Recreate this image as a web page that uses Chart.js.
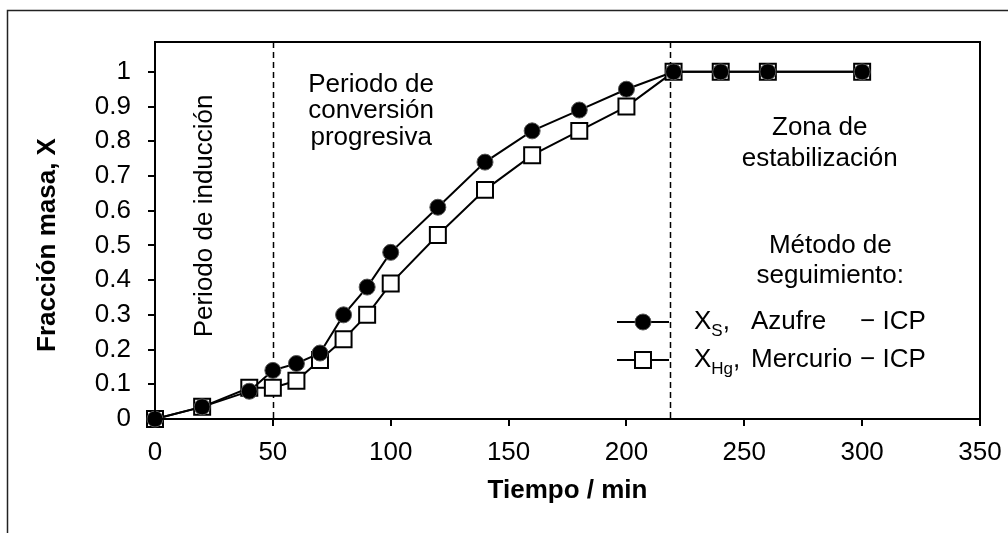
<!DOCTYPE html>
<html>
<head>
<meta charset="utf-8">
<script src="https://cdn.jsdelivr.net/npm/chart.js@4/dist/chart.umd.min.js"></script>
<style>
  html, body { margin: 0; padding: 0; background: #fff; }
</style>
</head>
<body>
<canvas id="myChart" width="1008" height="533"></canvas>
<script>
// 1) datos
var tiempo = [0, 20, 40, 50, 60, 70, 80, 90, 100, 120, 140, 160, 180, 200, 220, 240, 260, 300];
var xAzufre = [0, 0.035, 0.08, 0.14, 0.16, 0.19, 0.30, 0.38, 0.48, 0.61, 0.74, 0.83, 0.89, 0.95, 1, 1, 1, 1];
var xMercurio = [0, 0.035, 0.09, 0.09, 0.11, 0.17, 0.23, 0.30, 0.39, 0.53, 0.66, 0.76, 0.83, 0.90, 1, 1, 1, 1];
var xTicks = [0, 50, 100, 150, 200, 250, 300, 350];
var yTicks = [0, 0.1, 0.2, 0.3, 0.4, 0.5, 0.6, 0.7, 0.8, 0.9, 1];
var limites = [50, 218.5];

var FONT = 'Arial, "Liberation Sans", sans-serif';

function pares(xs, ys) {
  var out = [];
  for (var i = 0; i < xs.length; i++) out.push({ x: xs[i], y: ys[i] });
  return out;
}

// textos de las zonas (coordenadas en unidades de los ejes)
var notas = [
  { lines: ['Periodo de inducción'], x: 21, y: 0.585, rot: true },
  { lines: ['Periodo de', 'conversión', 'progresiva'], x: 91.7, y: 0.943, step: 26.5 },
  { lines: ['Zona de', 'estabilización'], x: 282, y: 0.818, step: 31 },
  { lines: ['Método de', 'seguimiento:'], x: 286.5, y: 0.477, step: 29.5 }
];

// leyenda con subindices
var leyenda = [
  { y: 0.28, base: 'X', sub: 'S', nombre: 'Azufre', ds: 0 },
  { y: 0.169, base: 'X', sub: 'Hg', nombre: 'Mercurio', ds: 1 }
];

function marcador(ctx, ds, x, y) {
  ctx.save();
  if (ds.pointStyle === 'rect') {
    var s = ds.pointRadius * Math.SQRT1_2;
    ctx.fillStyle = ds.pointBackgroundColor;
    ctx.strokeStyle = ds.pointBorderColor;
    ctx.lineWidth = ds.pointBorderWidth;
    ctx.fillRect(x - s, y - s, 2 * s, 2 * s);
    ctx.strokeRect(x - s, y - s, 2 * s, 2 * s);
  } else {
    ctx.beginPath();
    ctx.arc(x, y, ds.pointRadius, 0, Math.PI * 2);
    ctx.fillStyle = ds.pointBackgroundColor;
    ctx.fill();
    ctx.strokeStyle = ds.pointBorderColor;
    ctx.lineWidth = ds.pointBorderWidth;
    ctx.stroke();
  }
  ctx.restore();
}

var extras = {
  id: 'extras',
  beforeDraw: function(chart) {
    var ctx = chart.ctx;
    ctx.save();
    ctx.fillStyle = '#fff';
    ctx.fillRect(0, 0, chart.width, chart.height);
    // marco exterior
    ctx.strokeStyle = '#222';
    ctx.lineWidth = 1.5;
    ctx.strokeRect(7.5, 10.5, 1100, 600);
    ctx.restore();
  },
  beforeDatasetsDraw: function(chart) {
    var ctx = chart.ctx, a = chart.chartArea, sx = chart.scales.x;
    ctx.save();
    ctx.strokeStyle = '#000';
    ctx.lineWidth = 1.5;
    ctx.setLineDash([6, 4]);
    for (var i = 0; i < limites.length; i++) {
      var px = Math.round(sx.getPixelForValue(limites[i])) + 0.5;
      ctx.beginPath();
      ctx.moveTo(px, a.top);
      ctx.lineTo(px, a.bottom);
      ctx.stroke();
    }
    ctx.restore();
  },
  afterDraw: function(chart) {
    var ctx = chart.ctx, a = chart.chartArea;
    var sx = chart.scales.x, sy = chart.scales.y;
    ctx.save();
    // marco del area de trazado
    ctx.strokeStyle = '#000';
    ctx.lineWidth = 2;
    ctx.strokeRect(a.left, a.top, a.right - a.left, a.bottom - a.top);

    ctx.fillStyle = '#000';
    ctx.font = '26px ' + FONT;
    ctx.textAlign = 'center';
    for (var i = 0; i < notas.length; i++) {
      var n = notas[i];
      var px = sx.getPixelForValue(n.x), py = sy.getPixelForValue(n.y);
      if (n.rot) {
        ctx.save();
        ctx.translate(px, py);
        ctx.rotate(-Math.PI / 2);
        ctx.textBaseline = 'middle';
        ctx.fillText(n.lines[0], 0, 0);
        ctx.restore();
      } else {
        ctx.textBaseline = 'alphabetic';
        for (var j = 0; j < n.lines.length; j++) {
          ctx.fillText(n.lines[j], px, py + j * n.step);
        }
      }
    }

    // titulo del eje y
    ctx.save();
    ctx.translate(48, 245);
    ctx.rotate(-Math.PI / 2);
    ctx.font = 'bold 26px ' + FONT;
    ctx.textBaseline = 'middle';
    ctx.fillText('Fracción masa, X', 0, 0);
    ctx.restore();

    // leyenda
    ctx.textAlign = 'left';
    ctx.textBaseline = 'middle';
    for (var k = 0; k < leyenda.length; k++) {
      var l = leyenda[k];
      var ds = chart.data.datasets[l.ds];
      var ly = Math.round(sy.getPixelForValue(l.y));
      var x1 = a.right - 363, x2 = a.right - 311;
      ctx.strokeStyle = '#000';
      ctx.lineWidth = 2;
      ctx.beginPath();
      ctx.moveTo(x1, ly);
      ctx.lineTo(x2, ly);
      ctx.stroke();
      marcador(ctx, ds, (x1 + x2) / 2, ly);

      var tx = a.right - 286;
      ctx.font = '26px ' + FONT;
      ctx.fillText(l.base, tx, ly);
      tx += ctx.measureText(l.base).width;
      ctx.font = '17px ' + FONT;
      ctx.fillText(l.sub, tx, ly + 9);
      tx += ctx.measureText(l.sub).width;
      ctx.font = '26px ' + FONT;
      ctx.fillText(',', tx, ly);
      ctx.fillText(l.nombre, a.right - 229, ly);
      ctx.fillText('\u2212 ICP', a.right - 120, ly);
    }
    ctx.restore();
  }
};

function main() {
  var ctx = document.getElementById('myChart').getContext('2d');
  var tickFont = { family: FONT, size: 26 };
  new Chart(ctx, {
    type: 'line',
    data: {
      datasets: [
        {
          label: 'XS, Azufre - ICP',
          data: pares(tiempo, xAzufre),
          clip: false,
          borderColor: '#000',
          borderWidth: 2,
          pointStyle: 'circle',
          pointRadius: 8,
          pointBackgroundColor: '#000',
          pointBorderColor: '#555',
          pointBorderWidth: 1
        },
        {
          label: 'XHg, Mercurio - ICP',
          data: pares(tiempo, xMercurio),
          clip: false,
          borderColor: '#000',
          borderWidth: 2,
          pointStyle: 'rect',
          pointRadius: 11.3,
          pointBackgroundColor: '#fff',
          pointBorderColor: '#000',
          pointBorderWidth: 2
        }
      ]
    },
    options: {
      responsive: false,
      animation: false,
      devicePixelRatio: 1,
      events: [],
      layout: { padding: { top: 42, right: 28, left: 0, bottom: 0 } },
      plugins: { legend: { display: false }, tooltip: { enabled: false } },
      scales: {
        x: {
          type: 'linear',
          min: 0,
          max: 350,
          afterBuildTicks: function(s) { s.ticks = xTicks.map(function(v) { return { value: v }; }); },
          afterFit: function(s) { s.height = 114; s.paddingLeft = 0; s.paddingRight = 0; },
          grid: { drawOnChartArea: false, drawTicks: true, tickLength: 7, color: '#000', lineWidth: 2 },
          border: { color: '#000', width: 2 },
          ticks: { font: tickFont, color: '#000', padding: 11, maxRotation: 0, autoSkip: false },
          title: { display: true, text: 'Tiempo / min', color: '#000',
                   font: { family: FONT, size: 26, weight: 'bold' }, padding: { top: 0, bottom: 27 } }
        },
        y: {
          min: 0,
          max: 1.086,
          afterBuildTicks: function(s) { s.ticks = yTicks.map(function(v) { return { value: v }; }); },
          afterFit: function(s) { s.width = 155; s.paddingTop = 0; s.paddingBottom = 0; },
          grid: { drawOnChartArea: false, drawTicks: true, tickLength: 7, color: '#000', lineWidth: 2 },
          border: { color: '#000', width: 2 },
          ticks: { font: tickFont, color: '#000', padding: 17,
                   callback: function(v) { return String(Math.round(v * 10) / 10); } }
        }
      }
    },
    plugins: [extras]
  });
}

main();
</script>
</body>
</html>
